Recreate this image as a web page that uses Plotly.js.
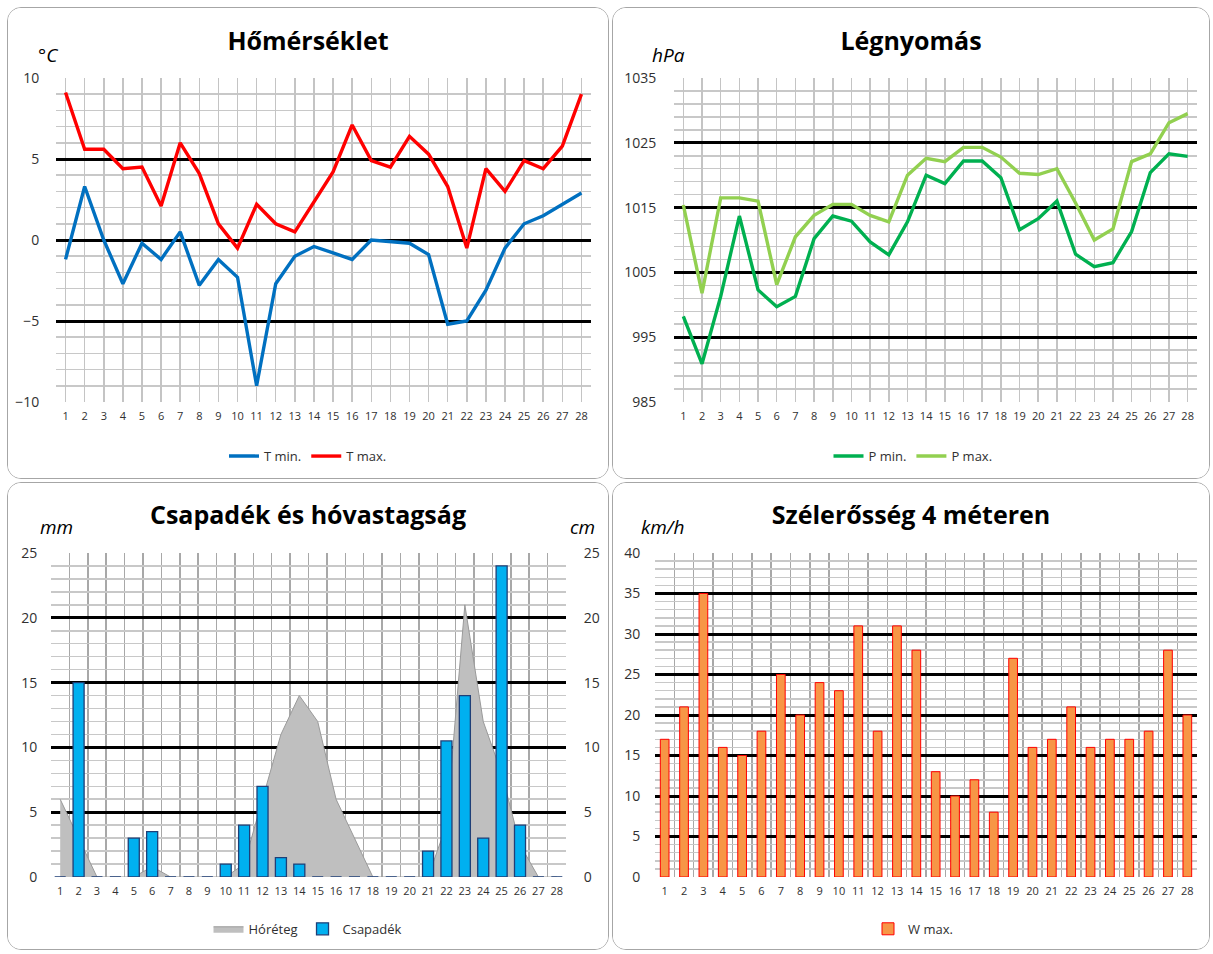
<!DOCTYPE html>
<html><head><meta charset="utf-8">
<script src="https://cdn.plot.ly/plotly-3.0.1.min.js"></script>
<style>
body{margin:0;background:#fff;width:1213px;height:954px;position:relative;overflow:hidden}
.panel{position:absolute;border:1px solid #a6a6a6;border-radius:14px;box-sizing:border-box;overflow:hidden;background:#fff}
.panel>div{position:absolute;left:0;top:0}
</style></head><body>
<div class="panel" style="left:7px;top:7px;width:602px;height:472px"><div id="c1"></div></div>
<div class="panel" style="left:612px;top:7px;width:598px;height:472px"><div id="c2"></div></div>
<div class="panel" style="left:7px;top:482px;width:602px;height:468px"><div id="c3"></div></div>
<div class="panel" style="left:612px;top:482px;width:598px;height:468px"><div id="c4"></div></div>
<script>
const days = [1,2,3,4,5,6,7,8,9,10,11,12,13,14,15,16,17,18,19,20,21,22,23,24,25,26,27,28];
const tMin = [-1.2,3.3,0.0,-2.7,-0.2,-1.2,0.5,-2.8,-1.2,-2.3,-9.0,-2.7,-1.0,-0.4,-0.8,-1.2,0.0,-0.1,-0.2,-0.9,-5.2,-5.0,-3.1,-0.5,1.0,1.5,2.2,2.9];
const tMax = [9.1,5.6,5.6,4.4,4.5,2.1,6.0,4.1,1.0,-0.5,2.2,1.0,0.5,2.4,4.2,7.1,4.9,4.5,6.4,5.3,3.3,-0.5,4.4,3.0,4.9,4.4,5.8,9.0];
const pMin = [998.2,990.9,1001.3,1013.7,1002.3,999.7,1001.3,1010.2,1013.7,1012.9,1009.7,1007.7,1012.8,1020.0,1018.7,1022.2,1022.2,1019.6,1011.6,1013.3,1016.0,1007.8,1005.9,1006.5,1011.3,1020.4,1023.3,1022.9];
const pMax = [1015.4,1001.8,1016.5,1016.5,1016.0,1003.1,1010.5,1013.8,1015.5,1015.5,1013.8,1012.8,1020.0,1022.6,1022.1,1024.3,1024.3,1022.8,1020.3,1020.1,1021.0,1015.7,1010.0,1011.7,1022.1,1023.3,1028.1,1029.5];
const precip = [0,15,0,0,3,3.5,0,0,0,1,4,7,1.5,1,0,0,0,0,0,0,2,10.5,14,3,24,4,0,0];
const snow = [6,3,0,0,0,0.8,0,0,0,0,1,6,11,14,12,6,3,0,0,0,0,4,21,12,8,2.5,0,0];
const windMax = [17,21,35,16,15,18,25,20,24,23,31,18,31,28,13,10,12,8,27,16,17,21,16,17,17,18,28,20];
const names = {tmin:'T min.', tmax:'T max.', pmin:'P min.', pmax:'P max.', snow:'Hóréteg', precip:'Csapadék', wind:'W max.'};
const titles = ['Hőmérséklet','Légnyomás','Csapadék és hóvastagság','Szélerősség 4 méteren'];

const FONT = '"Open Sans", sans-serif';
const TXT = '#303030';
const cfg = {displayModeBar:false, staticPlot:true};

function title(t, h, yc){
  return {text:t, font:{family:FONT,size:25,color:'#000',weight:'bold'}, x:0.5, xref:'container', xanchor:'center', y:1-yc/h, yref:'container', yanchor:'middle'};
}
function legend(xp, yp){
  return {orientation:'h', x:xp, xref:'paper', xanchor:'center', y:yp, yref:'paper', yanchor:'middle', font:{family:FONT,size:13,color:TXT}, bgcolor:'rgba(0,0,0,0)', itemwidth:30, traceorder:'normal'};
}
function unit(text, xp, xs, ys){
  return {text:text, xref:'paper', yref:'paper', x:xp, y:1, xanchor:'center', yanchor:'middle', xshift:xs, yshift:ys, showarrow:false, font:{family:FONT,size:19,color:'#000',style:'italic'}};
}
function xLine(){
  return {range:[0.5,28.5], tickmode:'array', tickvals:days, ticktext:days.map(String), tickangle:0, showgrid:true, gridcolor:'#c4c4c4', gridwidth:1.5, zeroline:false, showline:false, ticks:'outside', ticklen:4, tickcolor:'rgba(0,0,0,0)', tickfont:{family:FONT,size:11,color:TXT}, automargin:false};
}
function xBar(){
  return {range:[0.5,28.5], tickmode:'array', tickvals:days, ticktext:days.map(String), tickangle:0, showgrid:false, zeroline:false, showline:false, ticks:'outside', ticklen:4, tickcolor:'rgba(0,0,0,0)', tickfont:{family:FONT,size:11,color:TXT}, automargin:false,
    minor:{tickmode:'array', tickvals:days.map(d=>d-0.5).concat([days[days.length-1]+0.5]), showgrid:true, gridcolor:'#a8a8a8', gridwidth:1.5, ticks:''}};
}
function yAx(r, d, md, tl){
  return {range:r, tick0:r[0], dtick:d, showgrid:true, gridcolor:'#000', gridwidth:3, zeroline:false, showline:false, ticks:'outside', ticklen:tl, tickcolor:'rgba(0,0,0,0)', tickfont:{family:FONT,size:14,color:TXT}, automargin:false,
    minor:{dtick:md, tick0:r[0], showgrid:true, gridcolor:'#c8c8c8', gridwidth:1.5, ticks:''}};
}

// Panel 1
Plotly.newPlot('c1', [
  {x:days, y:tMin, type:'scatter', mode:'lines', name:names.tmin, line:{color:'#0070C0', width:3.4}},
  {x:days, y:tMax, type:'scatter', mode:'lines', name:names.tmax, line:{color:'#FF0000', width:3.4}}
], {
  width:600, height:470, margin:{l:48,r:17,t:70,b:76,pad:0, autoexpand:false},
  paper_bgcolor:'#fff', plot_bgcolor:'#fff',
  title:title(titles[0],470,33), legend:legend((300-48)/535, -0.167), showlegend:true,
  xaxis:xLine(), yaxis:yAx([-10,10],5,1,13),
  annotations:[unit('°C',0,-8,23)]
}, cfg);

// Panel 2
Plotly.newPlot('c2', [
  {x:days, y:pMin, type:'scatter', mode:'lines', name:names.pmin, line:{color:'#00B050', width:3.4}},
  {x:days, y:pMax, type:'scatter', mode:'lines', name:names.pmax, line:{color:'#92D050', width:3.4}}
], {
  width:596, height:470, margin:{l:61,r:12,t:70,b:76,pad:0, autoexpand:false},
  paper_bgcolor:'#fff', plot_bgcolor:'#fff',
  title:title(titles[1],470,33), legend:legend((300-61)/523, -0.167), showlegend:true,
  xaxis:xLine(), yaxis:yAx([985,1035],10,2,14),
  annotations:[unit('hPa',0,-6,23)]
}, cfg);

// Panel 3
Plotly.newPlot('c3', [
  {x:days, y:snow, type:'scatter', mode:'lines', name:names.snow, fill:'tozeroy', fillcolor:'#BFBFBF', line:{color:'#9a9a9a', width:1}, zorder:0},
  {x:days, y:precip, type:'bar', name:names.precip, width:0.6, marker:{color:'#00B0F0', line:{color:'#1F3F77', width:1.3}}, zorder:1},
  {x:days, y:snow, type:'scatter', mode:'lines', yaxis:'y2', showlegend:false, hoverinfo:'skip', line:{width:0, color:'rgba(0,0,0,0)'}}
], {
  width:600, height:466, margin:{l:43,r:42,t:70,b:72,pad:0, autoexpand:false},
  paper_bgcolor:'#fff', plot_bgcolor:'#fff',
  title:title(titles[2],466,32), legend:legend((300-43)/515, -0.16), showlegend:true,
  xaxis:xBar(), yaxis:yAx([0,25],5,1,10),
  yaxis2:{range:[0,25], tick0:0, dtick:5, overlaying:'y', side:'right', showgrid:false, zeroline:false, showline:false, ticks:'outside', ticklen:14, tickcolor:'rgba(0,0,0,0)', tickfont:{family:FONT,size:14,color:TXT}, automargin:false},
  annotations:[unit('mm',0,5,26), unit('cm',1,16,26)]
}, cfg);

// Panel 4
Plotly.newPlot('c4', [
  {x:days, y:windMax, type:'bar', name:names.wind, width:0.45, marker:{color:'#F79646', line:{color:'#FF0000', width:1}}}
], {
  width:596, height:466, margin:{l:42,r:12,t:70,b:72,pad:0, autoexpand:false},
  paper_bgcolor:'#fff', plot_bgcolor:'#fff',
  title:title(titles[3],466,32), legend:legend((300-42)/542, -0.16), showlegend:true,
  xaxis:xBar(), yaxis:yAx([0,40],5,1,11),
  annotations:[unit('km/h',0,7,26)]
}, cfg);
</script>
</body></html>
